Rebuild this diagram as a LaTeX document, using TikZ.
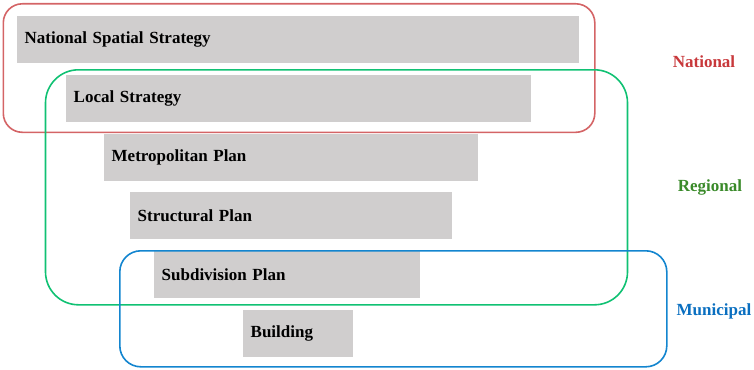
\documentclass[tikz,border=0pt]{standalone}
\usepackage{fontspec}
\setmainfont{Liberation Serif}
\begin{document}
\begin{tikzpicture}[x=1pt,y=-1pt,
  bar/.style={fill=barfill, anchor=north west, minimum height=47pt, inner xsep=7.5pt, inner ysep=0pt, font=\fontsize{17}{20}\selectfont\bfseries, align=left},
  group/.style={draw, line width=1.6pt, anchor=north west, inner sep=0pt},
  lab/.style={font=\fontsize{17}{20}\selectfont\bfseries}]
\definecolor{barfill}{HTML}{D0CECE}
\definecolor{natline}{HTML}{D46466}
\definecolor{regline}{HTML}{10C173}
\definecolor{munline}{HTML}{1385CF}
\definecolor{nattext}{HTML}{C8383B}
\definecolor{regtext}{HTML}{3A8A2A}
\definecolor{muntext}{HTML}{0A6FC0}
\useasboundingbox (0,0) rectangle (754,369);
\node[bar, text width=562pt-15pt] (nss) at (17,16) {National Spatial Strategy};
\node[bar, text width=465pt-15pt] (ls) at (66,75) {Local Strategy};
\node[bar, text width=374pt-15pt] (mp) at (104,134) {Metropolitan Plan};
\node[bar, text width=322pt-15pt] (sp) at (130,192) {Structural Plan};
\node[bar, text width=266pt-15pt] (sdp) at (154,251) {Subdivision Plan};
\node[bar, text width=110pt-15pt] (bld) at (243,310) {Building};
\node[group, natline, rounded corners=19pt, minimum width=591.5pt, minimum height=128.5pt] (natg) at (2.5,3) {};
\node[group, regline, rounded corners=33pt, minimum width=582pt, minimum height=235pt] (regg) at (44.7,69) {};
\node[group, munline, rounded corners=21pt, minimum width=547pt, minimum height=116pt] (mung) at (119,250) {};
\node[lab, text=nattext] (natl) at (704,62) {National};
\node[lab, text=regtext] (regl) at (710,187) {Regional};
\node[lab, text=muntext] (munl) at (714,311) {Municipal};
\end{tikzpicture}
\end{document}
